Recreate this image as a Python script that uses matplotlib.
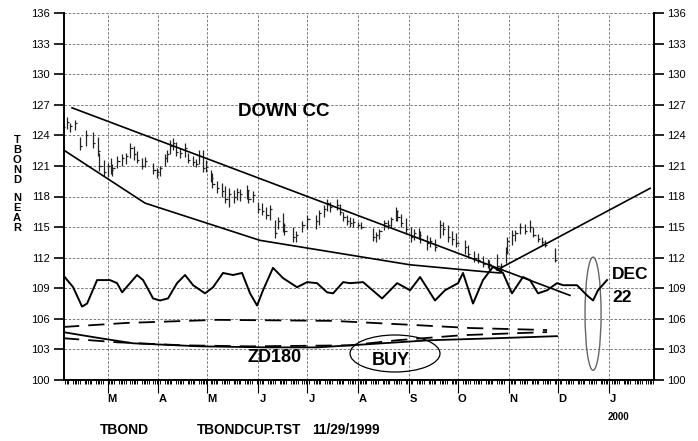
import numpy as np
import matplotlib
matplotlib.use("Agg")
import matplotlib.pyplot as plt
from matplotlib.patches import Ellipse

plt.rcParams['font.family'] = ['Liberation Sans', 'DejaVu Sans']

# x values are day-of-year 1999 (Jan 1 = 0)
bar_day = [32, 34, 36, 39, 42, 46, 50, 53, 54, 57, 59, 61, 62, 65, 68, 70, 73, 75, 77, 80,
           82, 87, 89, 91, 94, 95, 97, 99, 101, 103, 106, 108, 111, 113, 115, 117, 119, 122, 123, 126,
           129, 131, 133, 136, 138, 140, 144, 145, 148, 151, 153, 156, 158, 161, 163, 166, 167, 172, 174, 178,
           181, 186, 188, 191, 193, 195, 199, 201, 203, 205, 207, 209, 212, 214, 221, 223, 225, 228, 230, 232,
           235, 236, 238, 241, 244, 246, 249, 250, 254, 256, 259, 262, 264, 267, 269, 272, 277, 279, 283, 285,
           288, 291, 292, 297, 299, 302, 303, 306, 308, 311, 314, 317, 319, 322, 324, 326, 332]
bar_high = [126.3, 125.8, 125.2, 125.5, 123.8, 124.5, 124.3, 123.8, 122.3, 121.6, 121.3, 121.8, 121.2, 122.0, 122.2, 122.3, 123.2, 123.0, 122.5, 121.8,
            121.9, 121.3, 120.8, 121.0, 122.2, 122.6, 123.5, 123.7, 123.3, 122.8, 123.2, 122.3, 122.0, 121.7, 122.6, 122.6, 121.6, 120.6, 120.3, 119.5,
            119.3, 119.0, 118.8, 118.6, 118.8, 118.7, 119.1, 118.6, 118.5, 117.5, 117.4, 117.0, 117.2, 115.7, 116.0, 116.4, 115.4, 115.0, 114.6, 115.6,
            116.2, 116.2, 116.7, 117.2, 117.8, 117.5, 117.8, 117.3, 116.5, 116.2, 116.0, 115.9, 115.5, 115.5, 114.9, 114.5, 114.8, 115.7, 115.7, 116.0,
            117.0, 116.7, 116.3, 115.9, 115.0, 114.8, 114.9, 114.6, 114.2, 114.0, 113.8, 115.7, 115.5, 115.2, 114.6, 114.4, 113.7, 113.2, 112.7, 112.5,
            112.2, 111.9, 111.8, 112.4, 111.5, 113.0, 114.0, 114.7, 114.7, 115.4, 115.3, 115.7, 115.0, 114.3, 114.0, 113.7, 112.9]
bar_low = [124.4, 124.6, 124.3, 124.5, 122.6, 123.0, 122.8, 122.0, 120.5, 120.0, 119.9, 120.2, 120.0, 120.8, 121.0, 121.2, 121.8, 121.6, 121.3, 120.7,
           120.9, 120.2, 119.8, 120.0, 121.0, 121.4, 122.2, 122.6, 122.0, 121.8, 121.9, 121.3, 121.0, 120.9, 121.2, 120.4, 120.4, 119.4, 118.8, 118.3,
           118.0, 117.4, 117.0, 117.4, 117.7, 117.6, 117.8, 117.4, 117.5, 116.4, 116.2, 115.8, 115.7, 113.9, 114.8, 114.5, 114.2, 113.5, 113.5, 114.5,
           114.8, 114.8, 115.2, 116.0, 116.6, 116.5, 116.7, 116.2, 115.6, 115.2, 115.0, 115.0, 114.9, 114.8, 113.6, 113.5, 113.8, 114.7, 114.8, 115.0,
           115.6, 115.6, 115.0, 114.3, 113.5, 113.7, 113.8, 113.4, 112.8, 113.0, 112.7, 113.9, 114.2, 113.5, 113.2, 113.0, 112.4, 112.0, 111.6, 111.5,
           111.1, 111.0, 110.8, 110.8, 110.5, 111.5, 112.4, 113.2, 113.6, 114.3, 114.3, 114.5, 114.0, 113.5, 113.2, 113.0, 111.6]
bar_close = [124.8, 125.3, 124.9, 125.2, 123.0, 124.0, 123.2, 122.5, 121.0, 120.4, 121.0, 120.6, 120.8, 121.5, 121.8, 122.0, 122.8, 122.2, 121.6, 121.0,
             121.5, 120.6, 120.4, 120.8, 121.8, 122.2, 123.0, 123.2, 122.4, 122.3, 122.8, 121.6, 121.4, 121.2, 122.0, 120.8, 120.9, 119.8, 119.2, 118.8,
             118.5, 117.8, 118.2, 118.0, 118.4, 118.2, 118.6, 117.8, 118.1, 116.8, 116.6, 116.2, 116.8, 114.4, 115.6, 115.2, 114.6, 114.0, 114.2, 115.2,
             115.8, 115.6, 116.4, 116.8, 117.4, 117.0, 117.2, 116.5, 116.0, 115.6, 115.4, 115.5, 115.2, 115.0, 114.0, 114.2, 114.6, 115.4, 115.2, 115.8,
             116.6, 116.0, 115.4, 114.8, 114.0, 114.4, 114.2, 113.8, 113.4, 113.6, 113.0, 115.2, 114.8, 114.0, 113.8, 113.4, 113.0, 112.4, 112.0, 111.8,
             111.4, 111.2, 111.4, 111.2, 111.2, 112.6, 113.6, 114.2, 114.4, 115.0, 114.6, 115.0, 114.2, 113.8, 113.5, 113.2, 111.8]

osc_day = [31.8, 38, 43.4, 46.5, 52.6, 60.5, 64.8, 67.9, 77, 80.7, 86.8, 91, 95.9, 101.4, 106.3, 111.2, 118.5, 123.4,
           129.5, 135.6, 141.1, 146, 150.3, 153.9, 160, 166.1, 174.7, 180.8, 186.9, 193, 196.7, 202.8, 207.1, 215,
           226.6, 235.8, 243.7, 249.8, 258.9, 265, 273, 276, 282.1, 288.2, 294.3, 300.4, 305.9, 312.6, 316.9, 321.8,
           327.3, 333.4, 337.1, 345.6, 351.7, 355.4, 358.4, 363.9]
osc_val = [110.3, 109.1, 107.2, 107.5, 109.8, 109.8, 109.5, 108.6, 110.3, 109.8, 108.0, 107.8, 108.0, 109.5, 110.3, 109.3, 108.5, 109.1,
           110.5, 110.3, 110.5, 108.5, 107.3, 108.8, 111.0, 110.0, 109.1, 109.6, 109.5, 108.6, 108.5, 109.6, 109.5, 109.6,
           108.0, 109.5, 108.8, 110.1, 107.8, 108.8, 109.5, 110.5, 107.5, 109.8, 111.1, 110.5, 108.5, 110.1, 109.8, 108.5,
           108.8, 109.5, 109.3, 109.3, 108.3, 107.8, 108.8, 109.8]

zd_upper_day = [31.8, 70.9, 125.9, 196.7, 245.5, 280.3, 327.3]
zd_upper_val = [105.2, 105.6, 105.9, 105.8, 105.4, 105.1, 104.9]
zd_lower_day = [31.8, 64.8, 105.1, 146, 207.1, 235.8, 276, 327.3]
zd_lower_val = [104.1, 103.7, 103.4, 103.3, 103.4, 103.9, 104.4, 104.7]
zd_mid_day = [31.8, 54.4, 74.6, 115.5, 156.4, 186.9, 207.1, 255.9, 296.8, 333.4]
zd_mid_val = [104.7, 104.1, 103.6, 103.3, 103.2, 103.2, 103.4, 103.9, 104.1, 104.3]

down_line_day = [37.3, 341.3]
down_line_val = [126.7, 108.3]
lower_line_day = [31.8, 81.9, 152, 243.7, 290.7, 298.6]
lower_line_val = [122.6, 117.35, 113.7, 111.3, 110.6, 110.5]
up_line_day = [296.8, 390.2]
up_line_val = [110.8, 118.8]

month_day = [59, 90, 120, 151, 181, 212, 243, 273, 304, 334, 365]
month_lbl = ['M', 'A', 'M', 'J', 'J', 'A', 'S', 'O', 'N', 'D', 'J']
yticks = list(range(100, 137, 3))

W, H = 698, 441
fig = plt.figure(figsize=(W / 100, H / 100), dpi=100)
ax = fig.add_axes([63.5 / W, 1 - 380 / H, 590 / W, 367 / H])
ax.set_xlim(32.1, 392.3)
ax.set_ylim(100, 136)

# grid
for d in month_day:
    ax.axvline(d, color='#666666', lw=0.6, ls=(0, (3, 2)), zorder=0)
for y in yticks:
    ax.axhline(y, color='#666666', lw=0.6, ls=(0, (3, 2)), zorder=0)

# price bars
bd = np.array(bar_day, dtype=float)
ax.vlines(bd, bar_low, bar_high, color='#222222', lw=0.9)
ax.hlines(bar_close, bd, bd + 1.3, color='#222222', lw=0.9)

# trend lines
ax.plot(down_line_day, down_line_val, color='black', lw=1.2)
ax.plot(lower_line_day, lower_line_val, color='black', lw=1.2)
ax.plot(up_line_day, up_line_val, color='black', lw=1.2)

# oscillator
ax.plot(osc_day, osc_val, color='black', lw=1.4, solid_joinstyle='round')

# ZD180 lines
ax.plot(zd_upper_day, zd_upper_val, color='black', lw=1.3, ls=(0, (9, 5)))
ax.plot(zd_lower_day, zd_lower_val, color='black', lw=1.3, ls=(0, (9, 5)))
ax.plot(zd_mid_day, zd_mid_val, color='black', lw=1.3)

# annotations
ax.text(138.7, 126.3, 'DOWN CC', fontsize=13.5, fontweight='bold', va='center', ha='left')
ax.text(144.2, 102.25, 'ZD180', fontsize=13, fontweight='bold', va='center', ha='left')
ax.text(232, 101.95, 'BUY', fontsize=13, fontweight='bold', va='center', ha='center')
ax.add_patch(Ellipse((234.5, 102.6), 54.9, 3.63, fill=False, ec='black', lw=0.9))
ax.text(367, 110.3, 'DEC', fontsize=12.5, fontweight='bold', va='center', ha='left')
ax.text(367, 108.1, '22', fontsize=12.5, fontweight='bold', va='center', ha='left')
ax.add_patch(Ellipse((355.4, 106.5), 9.8, 11.1, fill=False, ec='#666666', lw=1.0))

# spines & ticks
ax.spines['top'].set_visible(False)
for s in ['left', 'right', 'bottom']:
    ax.spines[s].set_linewidth(1.4)
ax.set_yticks(yticks)
ax.tick_params(axis='y', which='both', left=True, right=True, labelleft=True, labelright=True,
               length=7, width=1.2, labelsize=8, pad=3)
ax.set_xticks(month_day)
ax.set_xticklabels([])
wk = [d for d in range(33, 393) if (4 + d) % 7 < 5]
ax.set_xticks(wk, minor=True)
ax.tick_params(axis='x', which='major', length=9, width=0.8)
ax.tick_params(axis='x', which='minor', length=3, width=0.7)

for d, lbl in zip(month_day, month_lbl):
    ax.annotate(lbl, xy=(d, 0), xycoords=('data', 'axes fraction'), xytext=(3, -10),
                textcoords='offset points', ha='center', va='top', fontsize=8, fontweight='bold')
ax.annotate('2000', xy=(365, 0), xycoords=('data', 'axes fraction'), xytext=(7, -23),
            textcoords='offset points', ha='center', va='top', fontsize=7, fontweight='bold')

# stacked y label
yl = 'TBOND NEAR'
ypix = 140
for ch in yl:
    if ch == ' ':
        ypix += 8
        continue
    fig.text(17 / W, 1 - ypix / H, ch, fontsize=8, fontweight='bold', ha='center', va='center')
    ypix += 10

fig.text(100 / W, 1 - 430 / H, 'TBOND', fontsize=10, fontweight='bold', va='center', ha='left')
fig.text(197 / W, 1 - 430 / H, 'TBONDCUP.TST', fontsize=9.8, fontweight='bold', va='center', ha='left')
fig.text(312 / W, 1 - 430 / H, '11/29/1999', fontsize=9.8, fontweight='bold', va='center', ha='left')

fig.savefig('out.png', dpi=100)
